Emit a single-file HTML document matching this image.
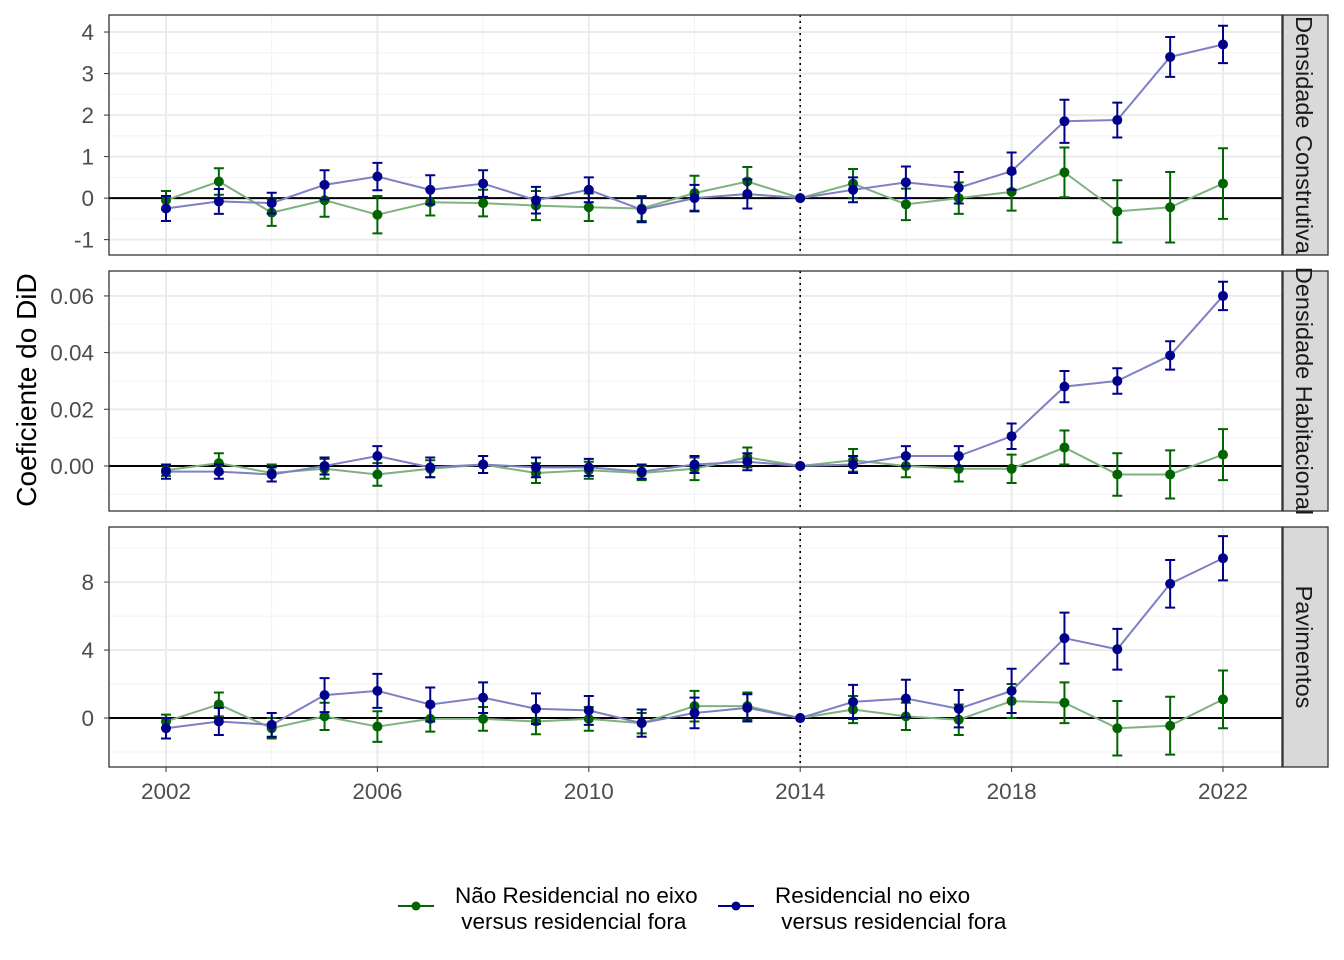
<!DOCTYPE html>
<html><head><meta charset="utf-8"><style>
html,body{margin:0;padding:0;background:#fff;}
svg{display:block;font-family:"Liberation Sans",Arial,sans-serif;}
</style></head><body>
<svg id="chart" width="1344" height="960" viewBox="0 0 1344 960" xmlns="http://www.w3.org/2000/svg"></svg>
<script>
const years = [2002,2003,2004,2005,2006,2007,2008,2009,2010,2011,2012,2013,2014,2015,2016,2017,2018,2019,2020,2021,2022];
const xTicks = [2002,2006,2010,2014,2018,2022];
const panelNames = ["Densidade Construtiva","Densidade Habitacional","Pavimentos"];
const seriesNames = ["Não Residencial no eixo| versus residencial fora","Residencial no eixo| versus residencial fora"];
// Panel 1: Densidade Construtiva
const p1Green = [-0.05,0.4,-0.35,-0.05,-0.4,-0.1,-0.12,-0.18,-0.22,-0.25,0.12,0.4,0,0.35,-0.15,0,0.15,0.62,-0.32,-0.22,0.35];
const p1GreenErr = [0.22,0.32,0.32,0.4,0.45,0.32,0.32,0.35,0.33,0.3,0.42,0.35,0,0.35,0.38,0.38,0.45,0.6,0.75,0.85,0.85];
const p1Blue = [-0.25,-0.08,-0.12,0.32,0.52,0.2,0.35,-0.05,0.2,-0.28,0,0.1,0,0.2,0.38,0.25,0.65,1.85,1.88,3.4,3.7];
const p1BlueErr = [0.3,0.3,0.25,0.35,0.33,0.35,0.32,0.32,0.3,0.3,0.32,0.35,0,0.3,0.38,0.38,0.45,0.52,0.42,0.48,0.45];
// Panel 2: Densidade Habitacional
const p2Green = [-0.0015,0.001,-0.0025,-0.001,-0.003,-0.001,0.0005,-0.0025,-0.0015,-0.0025,-0.001,0.003,0,0.002,0,-0.001,-0.001,0.0065,-0.003,-0.003,0.004];
const p2GreenErr = [0.002,0.0035,0.003,0.0035,0.004,0.003,0.003,0.0035,0.003,0.0025,0.004,0.0035,0,0.004,0.004,0.0045,0.005,0.006,0.0075,0.0085,0.009];
const p2Blue = [-0.002,-0.002,-0.003,0,0.0035,-0.0005,0.0005,-0.0005,-0.0005,-0.002,0.0005,0.0015,0,0.0005,0.0035,0.0035,0.0105,0.028,0.03,0.039,0.06];
const p2BlueErr = [0.0025,0.0025,0.0025,0.003,0.0035,0.0035,0.003,0.0035,0.003,0.0025,0.003,0.003,0,0.003,0.0035,0.0035,0.0045,0.0055,0.0045,0.005,0.005];
// Panel 3: Pavimentos
const p3Green = [-0.2,0.8,-0.6,0.1,-0.5,-0.05,-0.05,-0.2,-0.05,-0.3,0.7,0.7,0,0.5,0.1,-0.1,1.0,0.9,-0.6,-0.45,1.1];
const p3GreenErr = [0.4,0.7,0.6,0.8,0.9,0.75,0.7,0.75,0.7,0.6,0.9,0.8,0,0.8,0.8,0.9,1.0,1.2,1.6,1.7,1.7];
const p3Blue = [-0.6,-0.2,-0.4,1.35,1.6,0.8,1.2,0.55,0.45,-0.3,0.3,0.6,0,0.95,1.15,0.55,1.6,4.7,4.05,7.9,9.4];
const p3BlueErr = [0.6,0.8,0.7,1.0,1.0,1.0,0.9,0.9,0.85,0.8,0.9,0.8,0,1.0,1.1,1.1,1.3,1.5,1.2,1.4,1.3];
const p1Ticks = [-1,0,1,2,3,4];
const p1TickLabels = ["-1","0","1","2","3","4"];
const p2Ticks = [0,0.02,0.04,0.06];
const p2TickLabels = ["0.00","0.02","0.04","0.06"];
const p3Ticks = [0,4,8];
const p3TickLabels = ["0","4","8"];

const NS="http://www.w3.org/2000/svg";
const svg=document.getElementById('chart');
function mk(tag,attrs,parent){const e=document.createElementNS(NS,tag);for(const k in attrs)e.setAttribute(k,attrs[k]);(parent||svg).appendChild(e);return e;}
const X0=109,X1=1282;
const xScale=y=>166+(y-2002)*(1223-166)/20;
const panels=[
 {top:15,bot:255,min:-1.37,max:4.41,ticks:p1Ticks,labels:p1TickLabels,minor:[-0.5,0.5,1.5,2.5,3.5],g:p1Green,ge:p1GreenErr,b:p1Blue,be:p1BlueErr},
 {top:271,bot:511,min:-0.0159,max:0.0688,ticks:p2Ticks,labels:p2TickLabels,minor:[-0.01,0.01,0.03,0.05],g:p2Green,ge:p2GreenErr,b:p2Blue,be:p2BlueErr},
 {top:527,bot:767,min:-2.88,max:11.24,ticks:p3Ticks,labels:p3TickLabels,minor:[-2,2,6,10],g:p3Green,ge:p3GreenErr,b:p3Blue,be:p3BlueErr}
];
const GREEN="#006400",BLUE="#00008B";
panels.forEach((p,pi)=>{
 const ys=v=>p.bot-(v-p.min)/(p.max-p.min)*(p.bot-p.top);
 const g=mk('g',{});
 
 
 mk('rect',{x:X0,y:p.top,width:X1-X0,height:p.bot-p.top,fill:'#fff'},g);
 p.minor.forEach(v=>{const l=mk('line',{x1:X0,x2:X1,y1:ys(v),y2:ys(v),stroke:'#F2F2F2','stroke-width':1},g);});
 [2004,2008,2012,2016,2020].forEach(v=>{const l=mk('line',{x1:xScale(v),x2:xScale(v),y1:p.top,y2:p.bot,stroke:'#F2F2F2','stroke-width':1},g);});
 p.ticks.forEach((v,i)=>{
  const l=mk('line',{x1:X0,x2:X1,y1:ys(v),y2:ys(v),stroke:'#EBEBEB','stroke-width':2},g);
  
  mk('line',{x1:X0-5,x2:X0,y1:ys(v),y2:ys(v),stroke:'#333','stroke-width':1},g);
  const t=mk('text',{x:X0-15,y:ys(v)+8,'text-anchor':'end','font-size':22.5,fill:'#4D4D4D'},g);
  t.textContent=p.labels[i];
  
 });
 xTicks.forEach(v=>{const l=mk('line',{x1:xScale(v),x2:xScale(v),y1:p.top,y2:p.bot,stroke:'#EBEBEB','stroke-width':2},g);});
 const z=mk('line',{x1:X0,x2:X1,y1:ys(0),y2:ys(0),stroke:'#000','stroke-width':2},g);
 
 const vl=mk('line',{x1:xScale(2014),x2:xScale(2014),y1:p.top,y2:p.bot,stroke:'#000','stroke-width':1.6,'stroke-dasharray':'2,4'},g);
 
 [[p.g,p.ge,GREEN,'#7FB27F','green'],[p.b,p.be,BLUE,'#7F7FC5','blue']].forEach(([vals,errs,col,lcol,nm])=>{
  const sg=mk('g',{},g);
  
  const pl=mk('polyline',{points:years.map((y,i)=>xScale(y)+','+ys(vals[i])).join(' '),fill:'none',stroke:lcol,'stroke-width':2},sg);
  
  years.forEach((y,i)=>{
   const x=xScale(y),lo=ys(vals[i]-errs[i]),hi=ys(vals[i]+errs[i]);
   const e=mk('path',{d:`M${x-5},${hi}H${x+5}M${x},${hi}V${lo}M${x-5},${lo}H${x+5}`,stroke:col,'stroke-width':2,fill:'none'},sg);
   
   const c=mk('circle',{cx:x,cy:ys(vals[i]),r:5,fill:col},sg);
   
  });
 });
 mk('rect',{x:X0,y:p.top,width:X1-X0,height:p.bot-p.top,fill:'none',stroke:'#333','stroke-width':1.3},g);
 const sr=mk('rect',{x:1283,y:p.top,width:45,height:p.bot-p.top,fill:'#D9D9D9',stroke:'#333','stroke-width':1.3},g);
 
 const cy=(p.top+p.bot)/2;
 const st=mk('text',{x:1304,y:cy,'text-anchor':'middle','font-size':23.5,fill:'#1A1A1A',transform:`rotate(90 1304 ${cy})`,'dominant-baseline':'central'},g);
 st.textContent=panelNames[pi];
 
});
xTicks.forEach(v=>{
 mk('line',{x1:xScale(v),x2:xScale(v),y1:767,y2:772,stroke:'#333','stroke-width':1});
 const t=mk('text',{x:xScale(v),y:799,'text-anchor':'middle','font-size':22.5,fill:'#4D4D4D'});
 t.textContent=v;
 
});
const yt=mk('text',{x:36,y:390,'text-anchor':'middle','font-size':28,fill:'#000',transform:'rotate(-90 36 390)'});
yt.textContent='Coeficiente do DiD';

const legend=mk('g',{});

[[398,GREEN,455],[718,BLUE,775]].forEach(([kx,col,tx],i)=>{
 const ent=mk('g',{},legend);
 
 mk('line',{x1:kx,x2:kx+36,y1:906,y2:906,stroke:col,'stroke-width':2},ent);
 mk('circle',{cx:kx+18,cy:906,r:4.5,fill:col},ent);
 const parts=seriesNames[i].split('|');
 parts.forEach((s,j)=>{const t=mk('text',{x:tx,y:903+j*26,'font-size':22.5,fill:'#000'},ent);t.setAttribute('style','white-space:pre');t.textContent=s;});
});
</script>
</body></html>
